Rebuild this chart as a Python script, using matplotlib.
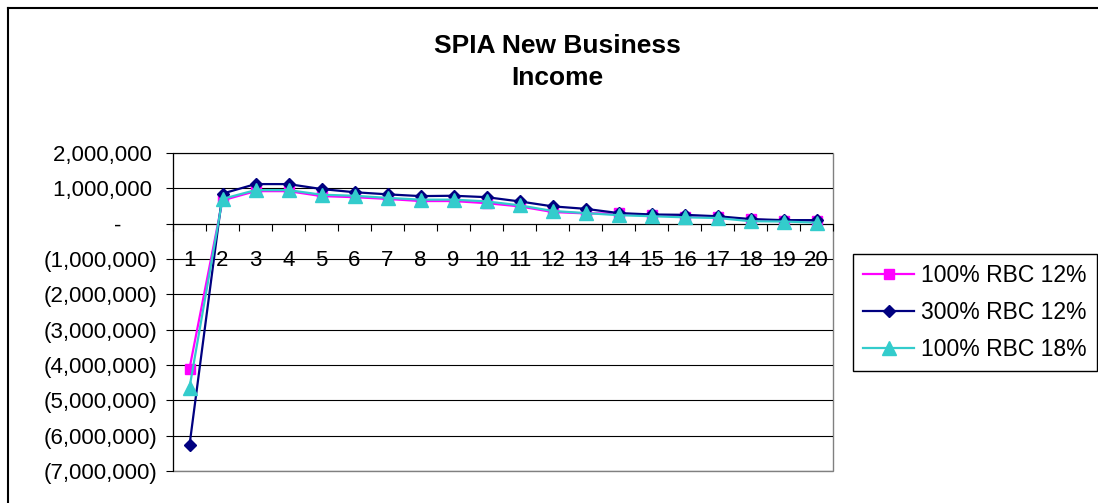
import matplotlib
matplotlib.use("Agg")
import matplotlib.pyplot as plt
from matplotlib.lines import Line2D
from matplotlib.patches import Rectangle
from matplotlib.ticker import FixedLocator, FuncFormatter

plt.rcParams['font.family'] = ['Liberation Sans', 'DejaVu Sans']

# data (in dollars)
years = list(range(1, 21))
rbc100_12 = [-4100000, 660000, 920000, 920000, 780000, 750000, 700000, 640000, 640000, 580000,
             490000, 330000, 290000, 290000, 240000, 200000, 180000, 120000, 80000, 80000]
rbc300_12 = [-6270000, 850000, 1120000, 1120000, 980000, 890000, 830000, 780000, 790000, 750000,
             630000, 490000, 420000, 300000, 260000, 250000, 210000, 130000, 100000, 100000]
rbc100_18 = [-4640000, 700000, 950000, 950000, 820000, 790000, 730000, 680000, 680000, 630000,
             520000, 360000, 300000, 240000, 210000, 180000, 160000, 70000, 60000, 30000]
labels = ['100% RBC 12%', '300% RBC 12%', '100% RBC 18%']
y_ticks = list(range(-7000000, 2000001, 1000000))

W, H = 1098, 503
fig = plt.figure(figsize=(W / 100, H / 100), dpi=100)
ax = fig.add_axes([173 / W, 1 - 471 / H, 660 / W, 318 / H])

#%% series
ax.plot(years, rbc100_12, color='#FF00FF', lw=1.6, marker='s', ms=7, label=labels[0], zorder=3)
ax.plot(years, rbc300_12, color='#000080', lw=1.6, marker='D', ms=6.5, label=labels[1], zorder=4)
ax.plot(years, rbc100_18, color='#33CCCC', lw=1.6, marker='^', ms=9.5, label=labels[2], zorder=5)

#%% axes
ax.set_xlim(0.5, 20.5)
ax.set_ylim(-7000000, 2000000)

def fmt(v, pos):
    if v == 0:
        return '-      '
    if v < 0:
        return '({:,.0f})'.format(-v)
    return '{:,.0f} '.format(v)

ax.yaxis.set_major_locator(FixedLocator(y_ticks))
ax.yaxis.set_major_formatter(FuncFormatter(fmt))
ax.tick_params(axis='y', direction='out', length=5, width=0.8, labelsize=16, pad=6)
ax.grid(axis='y', color='black', lw=0.8, zorder=1)

ax.set_xticks(years)
ax.set_xticklabels([str(y) for y in years])
ax.set_xticks([y + 0.5 for y in range(0, 21)], minor=True)
ax.tick_params(axis='x', which='major', length=0, labelsize=16, pad=19)
ax.tick_params(axis='x', which='minor', direction='out', length=5, width=0.8)

ax.spines['bottom'].set_position(('data', 0))
ax.spines['bottom'].set_color('black')
ax.spines['left'].set_color('black')
ax.spines['top'].set_visible(False)
ax.spines['right'].set_visible(False)
ax.add_patch(Rectangle((0, 0), 1, 1, transform=ax.transAxes, fill=False,
                       edgecolor='#808080', lw=1, zorder=0.5, clip_on=False))

#%% title, legend, frame
fig.text(557 / W, 1 - 62 / H, 'SPIA New Business\nIncome', ha='center', va='center',
         fontsize=19, fontweight='bold', linespacing=1.45)

leg = ax.legend(loc='upper left', bbox_to_anchor=(853 / W, 1 - 254 / H),
                bbox_transform=fig.transFigure, borderaxespad=0, fontsize=16.5,
                frameon=True, fancybox=False, framealpha=1, edgecolor='black',
                handlelength=2.2, handletextpad=0.3, labelspacing=0.6, borderpad=0.45)
leg.get_frame().set_linewidth(1)

fig.add_artist(Line2D([7.5 / W, 1.01], [1 - 7.5 / H] * 2, transform=fig.transFigure, color='black', lw=1.5))
fig.add_artist(Line2D([7.5 / W] * 2, [-0.01, 1 - 7.5 / H], transform=fig.transFigure, color='black', lw=1.5))

fig.savefig('out.png', dpi=100)
